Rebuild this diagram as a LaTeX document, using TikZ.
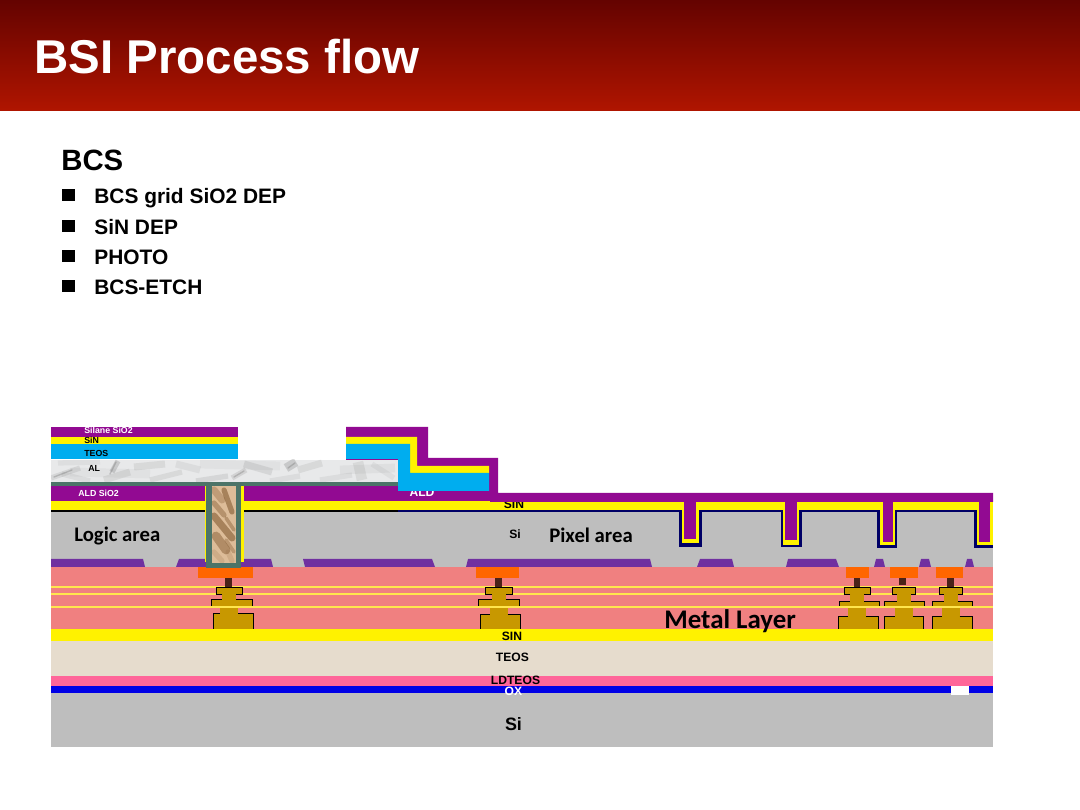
\documentclass[tikz,border=0pt]{standalone}
\usepackage{fontspec}
\usepackage{xcolor}
\setmainfont{Liberation Sans}
\newfontfamily\carlitofont{Carlito}
\usetikzlibrary{positioning,calc}
\definecolor{headtop}{HTML}{640300}
\definecolor{headbot}{HTML}{B01500}
\definecolor{siliconc}{HTML}{BEBEBE}
\definecolor{teosc}{HTML}{E6DCCD}
\definecolor{ldteosc}{HTML}{FF6699}
\definecolor{oxc}{HTML}{0000E6}
\definecolor{metalc}{HTML}{F08080}
\definecolor{linec}{HTML}{FFE64D}
\definecolor{stic}{HTML}{7030A0}
\definecolor{aldc}{HTML}{920A92}
\definecolor{cyanc}{HTML}{00ADEF}
\definecolor{marblec}{HTML}{E8E9EA}
\definecolor{linerc}{HTML}{4C7468}
\definecolor{plugc}{HTML}{DDBC98}
\definecolor{padc}{HTML}{FF6600}
\definecolor{viac}{HTML}{4A2318}
\definecolor{goldc}{HTML}{C89800}
\definecolor{navyc}{HTML}{000066}
\tikzset{
  txt/.style={inner sep=0pt,font=\bfseries},
  tag/.style={txt,font=\bfseries\fontsize{6.9}{8}\selectfont},
  smalltag/.style={txt,font=\bfseries\fontsize{5}{6}\selectfont},
  bullet/.style={fill=black},
  item/.style={txt,anchor=base west,font=\bfseries\fontsize{11.9}{14}\selectfont},
  area/.style={inner sep=0pt,anchor=base west,font=\carlitofont\bfseries\fontsize{11.8}{14}\selectfont},
}
\begin{document}
\begin{tikzpicture}[x=0.02cm,y=-0.02cm]
  \useasboundingbox (0,0) rectangle (1080,810);
  % Title bar
  \shade[top color=headtop,bottom color=headbot] (0,0) rectangle (1080,111);
  \node[txt,anchor=base west,white,font=\bfseries\fontsize{27}{32}\selectfont] (title) at (34,74) {BSI Process flow};
  % Text block
  \node[txt,anchor=base west,font=\bfseries\fontsize{16.7}{20}\selectfont] (heading) at (61,170.5) {BCS};
  \foreach \y/\base/\name/\label in {195/204/grid/BCS grid SiO2 DEP,226/234.5/sin/SiN DEP,256/264.5/photo/PHOTO,286/294.5/etch/BCS-ETCH}{
    \fill[bullet] (62,\y-6) rectangle (74.5,\y+6);
    \node[item] (\name) at (94,\base) {\label};
  }
  % Bottom layers
  \fill[siliconc] (51,693) rectangle (993,747);
  \fill[oxc] (51,686) rectangle (993,693);
  \fill[white] (951,686) rectangle (969,695);
  \fill[ldteosc] (51,676) rectangle (993,686);
  \fill[teosc] (51,641) rectangle (993,676);
  \fill[yellow] (51,629) rectangle (993,641);
  \fill[metalc] (51,567) rectangle (993,629);
  \fill[siliconc] (51,511) rectangle (993,567);
  % Isolation blocks above the metal layer
  \foreach \a/\b/\c/\d in {51/51/143/145,176/179/271/273,305/303/432/435,466/468/650/652,697/700/732/734,786/788/836/839,874/876/883/885,919/921/929/931,965/967/972/974}{
    \fill[stic] (\a,567) -- (\b,559) -- (\c,559) -- (\d,567) -- cycle;
  }
  % Thin lines through the metal layer
  \foreach \y in {587,594,607}{
    \fill[linec] (51,\y-1) rectangle (993,\y+1);
  }
  % Metal stacks: via, top, upper block, lower block, pad
  \foreach \vl/\vr/\vt/\tl/\tr/\ml/\mr/\mt/\bl/\br/\bt/\pl/\pr in {
    225/232/577/216/242/211/252/599/213/253/613/198/253,
    495/502/577/485/512/478/519/599/480/520/614/476/519,
    854/860/577/844/870/839/879/601/838/878/616/846/869,
    899/906/575/892/915/884/924/601/884/923/616/890/918,
    947/954/577/939/962/932/972/601/932/972/616/936/963}{
    \fill[goldc] (\bl,\bt) rectangle (\br,629);
    \fill[goldc] (\ml,\mt) rectangle (\mr,607);
    \fill[goldc] (\tl,587) rectangle (\tr,594);
    \fill[goldc] ({(\tl+\tr)/2-7},587) rectangle ({(\tl+\tr)/2+7},607);
    \fill[goldc] ({(\tl+\tr)/2-9},607) rectangle ({(\tl+\tr)/2+9},629);
    \draw[black,line width=0.5pt] (\bl,629) -- (\bl,\bt) -- ({(\tl+\tr)/2-9},\bt);
    \draw[black,line width=0.5pt] ({(\tl+\tr)/2+9},\bt) -- (\br,\bt) -- (\br,629);
    \draw[black,line width=0.5pt] (\ml,607) -- (\ml,\mt) -- ({(\tl+\tr)/2-7},\mt);
    \draw[black,line width=0.5pt] ({(\tl+\tr)/2+7},\mt) -- (\mr,\mt) -- (\mr,607);
    \draw[black,line width=0.5pt] ({(\tl+\tr)/2-7},594) -- (\tl,594) -- (\tl,587) -- (\tr,587) -- (\tr,594) -- ({(\tl+\tr)/2+7},594);
    \fill[viac] (\vl,\vt) rectangle (\vr,\vt+10);
    \fill[padc] (\pl,567) rectangle (\pr,578);
  }
  % Lowest thin line runs over the stacks
  \fill[linec] (51,606) rectangle (993,608);
  % Base line of the deposited layers
  \fill[black] (51,510) rectangle (398,512);
  \fill[navyc] (398,510) rectangle (993,512);
  \fill[yellow] (51,501.5) rectangle (993,510);
  \node[tag] (sintop) at (514,504.5) {SIN};
  % Deposited stack
  \fill[aldc] (51,486) rectangle (398,501.5);
  \fill[aldc] (398,491) rectangle (490,501.5);
  \fill[aldc] (346,427) -- (428,427) -- (428,458) -- (498,458) -- (498,493) -- (993,493)
    -- (993,502) -- (490,502) -- (490,491) -- (346,491) -- cycle;
  \node[tag,white] (ald) at (422,492) {ALD};
  \fill[yellow] (346,437) -- (417,437) -- (417,466) -- (489,466) -- (489,473) -- (410,473)
    -- (410,444) -- (346,444) -- cycle;
  \fill[cyanc] (346,444) -- (410,444) -- (410,473) -- (489,473) -- (489,491) -- (398,491)
    -- (398,459) -- (346,459) -- cycle;
  \fill[aldc] (51,427) rectangle (238,437);
  \fill[yellow] (51,437) rectangle (238,444);
  \fill[cyanc] (51,444) rectangle (238,459);
  % Marble strip
  \begin{scope}
    \clip (51,460) rectangle (398,482);
    \fill[marblec] (51,460) rectangle (398,482);
    \foreach \xa/\ya/\xb/\yb/\w/\o in {
      51/478/80/468/3/14,62/474/90/481/3/10,104/480/130/472/4/12,112/472/118/461/3/24,
      134/467/165/464/4/12,150/480/182/472/3/12,176/464/200/470/4/10,196/481/228/476/3/14,
      232/478/246/470/3/16,244/464/272/472/4/14,270/481/300/476/3/10,286/468/296/462/5/24,
      298/470/322/463/4/12,320/480/352/475/3/10,358/462/362/480/6/12,340/470/395/468/5/7,
      372/464/394/478/3/8,58/463/100/462/3/8,70/472/150/474/5/6,200/464/280/466/5/6}{
      \draw[black!60,line width=\w pt,opacity=\o/100] (\xa,\ya) -- (\xb,\yb);
    }
    \foreach \xa/\ya/\xb/\yb in {110/474/116/462,288/468/295/463,54/477/72/470,234/477/244/471}{
      \draw[black!60,line width=0.8pt,opacity=0.3,line cap=round] (\xa,\ya) -- (\xb,\yb);
    }
  \end{scope}
  \fill[linerc] (51,482) rectangle (398,486);
  % Plug through the stack
  \fill[yellow] (205,486) rectangle (244,562);
  \fill[linerc] (206,482) rectangle (241,568);
  \begin{scope}
    \clip (212,486) rectangle (236,563);
    \fill[plugc] (212,486) rectangle (236,563);
    \foreach \xa/\ya/\xb/\yb/\w/\o in {
      214/490/222/500/4/30,224/490/232/512/3/55,214/503/224/515/3/40,214/516/232/538/4/55,
      226/518/234/530/2/40,216/536/226/550/5/45,226/540/234/552/2/35,214/552/222/561/3/15,
      228/552/232/561/3/15}{
      \draw[brown!65!black,line width=\w pt,opacity=\o/100,line cap=round] (\xa,\ya) -- (\xb,\yb);
    }
  \end{scope}
  % Pixel trenches
  \foreach \nl/\nr/\nb/\yl/\yr/\yb/\pl/\pr/\pb in {
    679/702/547/682/699/543/684/696/539,
    781/802/547/783/799/545/785/797/540,
    877/897/548/880/895/545/883/893/542,
    974/993/548/977/993/545/979/990/542}{
    \fill[navyc] (\nl,510) rectangle (\nr,\nb);
    \fill[yellow] (\yl,502) rectangle (\yr,\yb);
    \fill[aldc] (\pl,502) rectangle (\pr,\pb);
  }
  % Labels
  \node[smalltag,white,anchor=west] (silane) at (84,430) {Silane SiO2};
  \node[smalltag,anchor=west] (sinleft) at (84,440.5) {SiN};
  \node[smalltag,anchor=west] (teosleft) at (84,453) {TEOS};
  \node[smalltag,anchor=west] (al) at (88,468.5) {AL};
  \node[smalltag,white,anchor=west] (aldsio) at (78,493.5) {ALD SiO2};
  \node[area] (logic) at (74,542) {Logic area};
  \node[tag,anchor=west] (sipixel) at (509,534) {Si};
  \node[area] (pixel) at (549,542.5) {Pixel area};
  \node[area,font=\carlitofont\bfseries\fontsize{15.3}{18}\selectfont] (metal) at (664,628.5) {Metal Layer};
  \node[tag] (sinlow) at (512,636) {SIN};
  \node[tag] (teos) at (512.5,657) {TEOS};
  \node[tag] (ldteos) at (515.5,680) {LDTEOS};
  \node[tag,white] (ox) at (513.5,691) {OX};
  \node[txt,font=\bfseries\fontsize{10.2}{12}\selectfont] (sibase) at (513.5,724) {Si};
\end{tikzpicture}
\end{document}
